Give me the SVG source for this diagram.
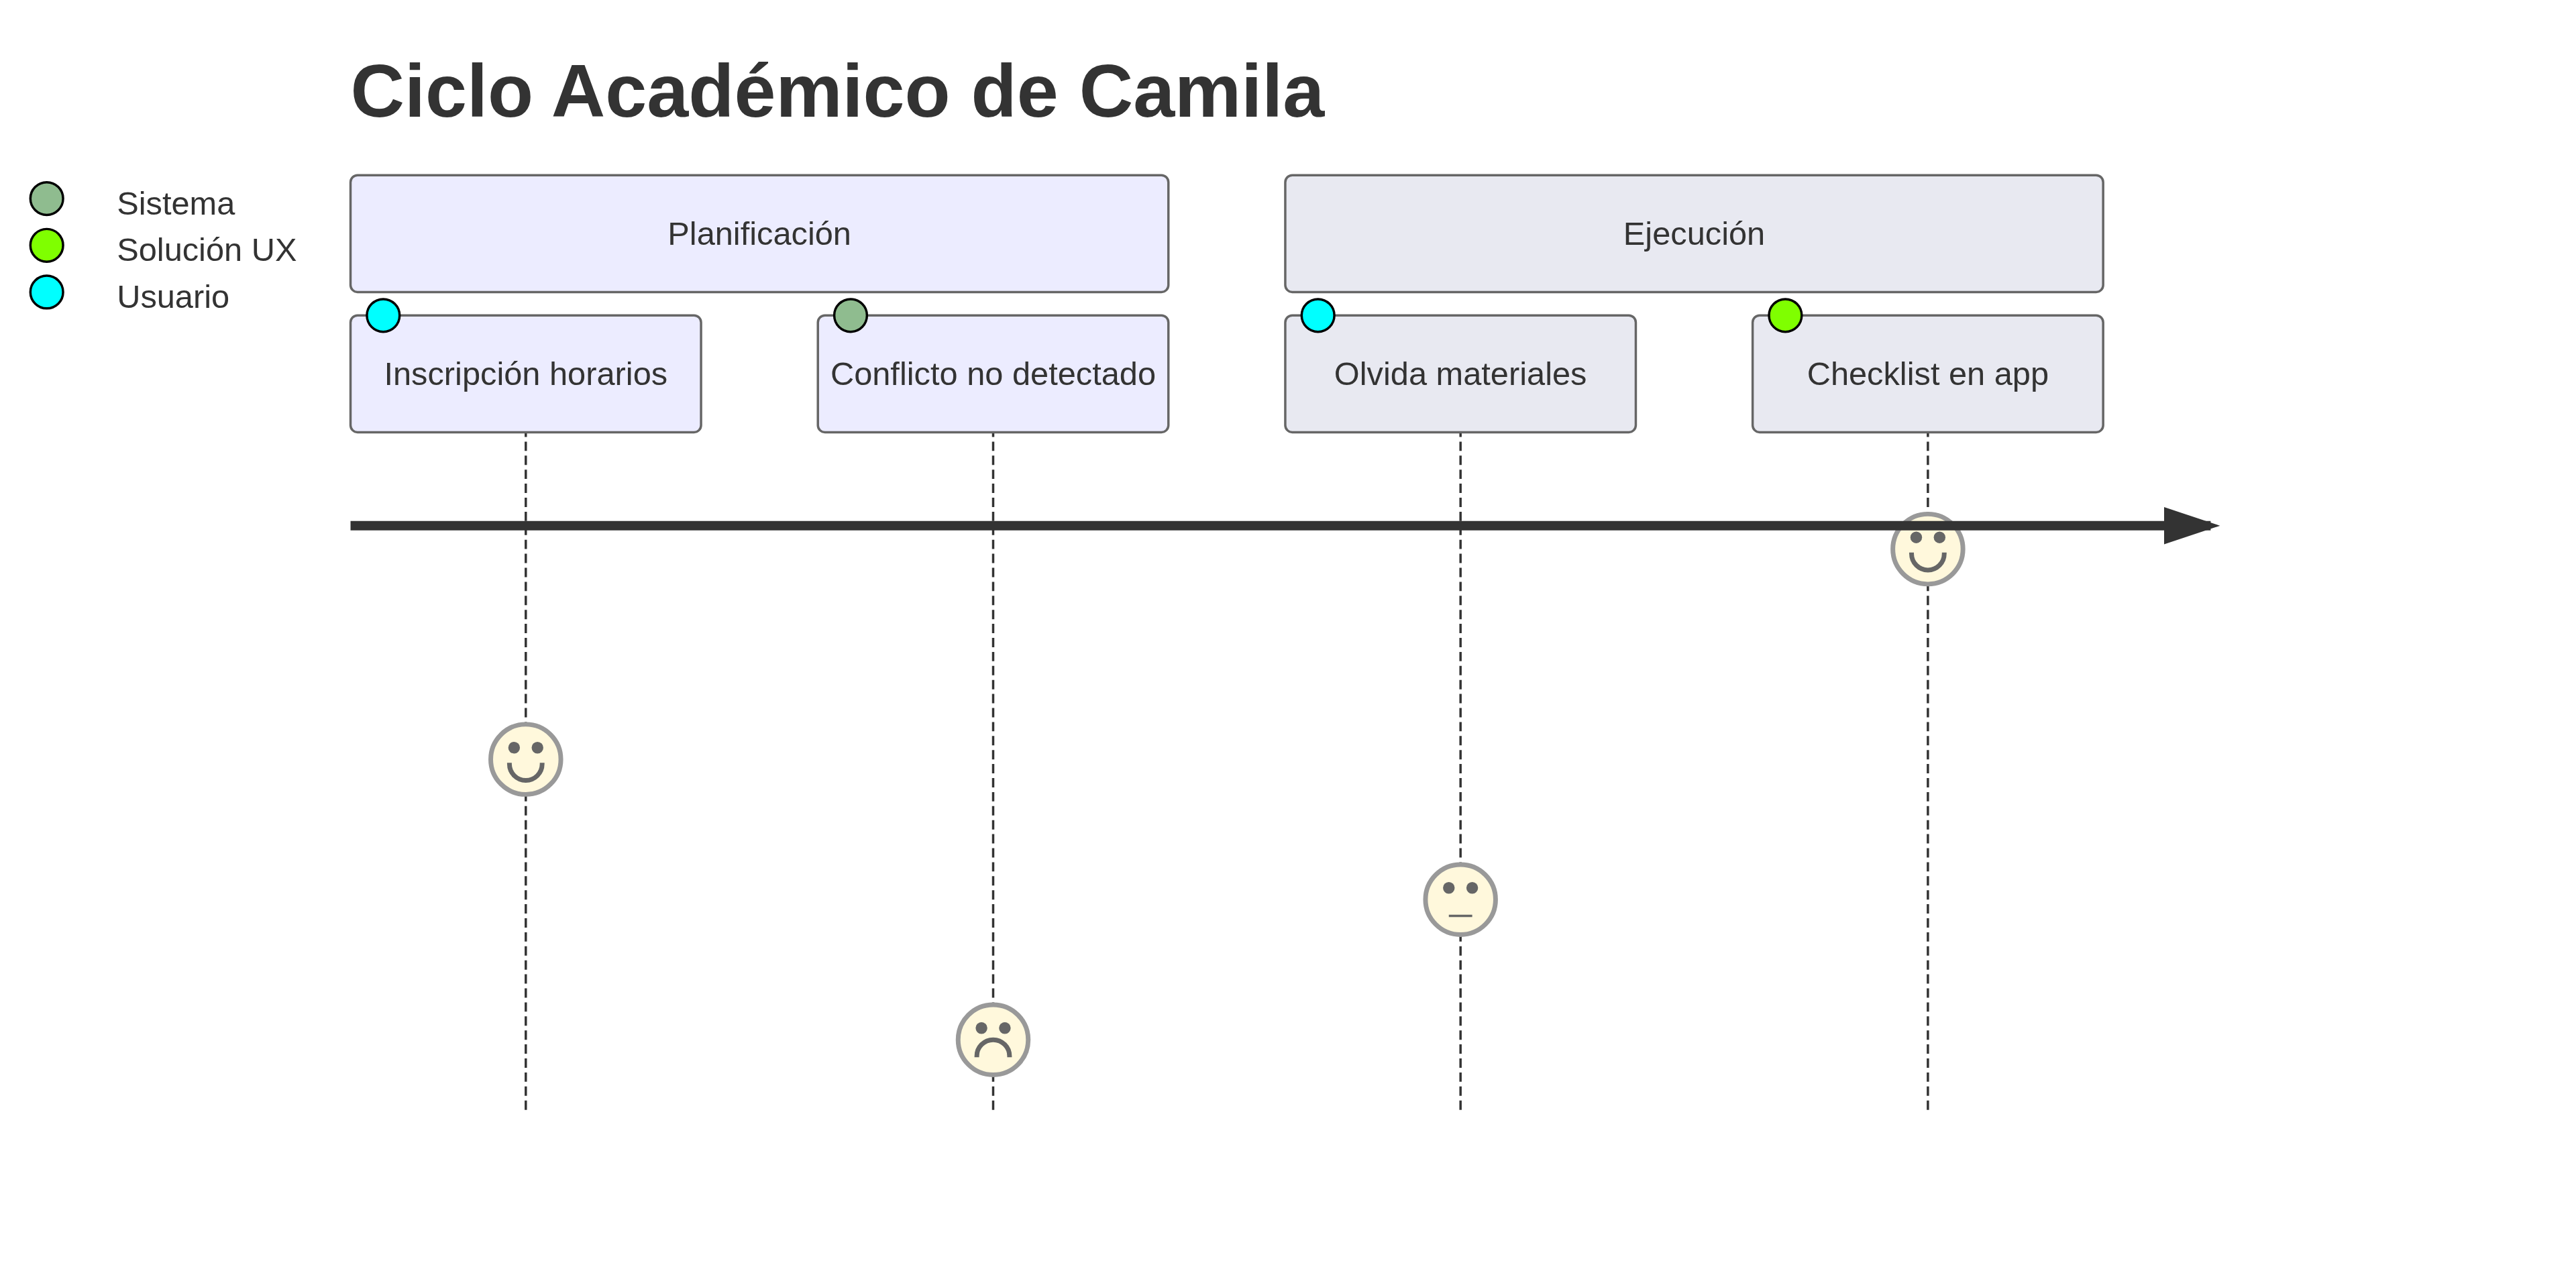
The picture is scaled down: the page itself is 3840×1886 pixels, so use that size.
<svg xmlns="http://www.w3.org/2000/svg" width="3840" height="1886" viewBox="0 0 3840 1886">
<defs>
<style>
text{font-family:"Liberation Sans",Arial,sans-serif;fill:#333;font-size:14px}
.t{text-anchor:middle;dominant-baseline:central}
.title{font-size:32px;font-weight:bold}
.s0{fill:#ECECFF;stroke:#666;stroke-width:1}
.s1{fill:#E8E9F1;stroke:#666;stroke-width:1}
.dot{stroke:#000;stroke-width:1}
.face{fill:#FFF8DC;stroke:#999;stroke-width:2}
.eye{fill:#666}
.mouth{fill:#666;stroke:#666;stroke-width:1}
.neutral{stroke:#666;stroke-width:1}
.dash{stroke:#333;stroke-width:1;stroke-dasharray:4 2}
</style>
<marker id="arrowhead" refX="5" refY="2" markerWidth="6" markerHeight="4" orient="auto"><path d="M0,0V4L6,2Z" fill="#333"/></marker>
</defs>
<rect width="3840" height="1886" fill="#fff"/>
<g transform="scale(3.4835)">
<text id="title" class="title" x="150" y="50">Ciclo Académico de Camila</text>
<g id="legend">
<g id="legend-sistema"><circle class="dot" cx="20" cy="85" r="7" fill="#8FBC8F"/><text x="50" y="91.8">Sistema</text></g>
<g id="legend-solucion"><circle class="dot" cx="20" cy="105" r="7" fill="#7FFF00"/><text x="50" y="111.8">Solución UX</text></g>
<g id="legend-usuario"><circle class="dot" cx="20" cy="125" r="7" fill="#00FFFF"/><text x="50" y="131.8">Usuario</text></g>
</g>
<g id="connectors">
<line class="dash" x1="225" y1="135" x2="225" y2="475"/>
<line class="dash" x1="425" y1="135" x2="425" y2="475"/>
<line class="dash" x1="625" y1="135" x2="625" y2="475"/>
<line class="dash" x1="825" y1="135" x2="825" y2="475"/>
</g>
<g id="section-planificacion"><rect class="s0" x="150" y="75" width="350" height="50" rx="3"/><text class="t" x="325" y="100">Planificación</text></g>
<g id="section-ejecucion"><rect class="s1" x="550" y="75" width="350" height="50" rx="3"/><text class="t" x="725" y="100">Ejecución</text></g>
<g id="task-inscripcion"><rect class="s0" x="150" y="135" width="150" height="50" rx="3"/><circle class="dot" cx="164" cy="135" r="7" fill="#00FFFF"/><text class="t" x="225" y="160">Inscripción horarios</text></g>
<g id="task-conflicto"><rect class="s0" x="350" y="135" width="150" height="50" rx="3"/><circle class="dot" cx="364" cy="135" r="7" fill="#8FBC8F"/><text class="t" x="425" y="160">Conflicto no detectado</text></g>
<g id="task-olvida"><rect class="s1" x="550" y="135" width="150" height="50" rx="3"/><circle class="dot" cx="564" cy="135" r="7" fill="#00FFFF"/><text class="t" x="625" y="160">Olvida materiales</text></g>
<g id="task-checklist"><rect class="s1" x="750" y="135" width="150" height="50" rx="3"/><circle class="dot" cx="764" cy="135" r="7" fill="#7FFF00"/><text class="t" x="825" y="160">Checklist en app</text></g>
<g id="face-inscripcion" transform="translate(225,325)"><circle class="face" r="15"/><circle class="eye" cx="-5" cy="-5" r="2.5"/><circle class="eye" cx="5" cy="-5" r="2.5"/><path class="mouth" d="M7.5,2A7.5,7.5 0 0 1 -7.5,2L-6.5,2A6.5,6.5 0 0 0 6.5,2Z"/></g>
<g id="face-conflicto" transform="translate(425,445)"><circle class="face" r="15"/><circle class="eye" cx="-5" cy="-5" r="2.5"/><circle class="eye" cx="5" cy="-5" r="2.5"/><path class="mouth" d="M-7.5,7A7.5,7.5 0 0 1 7.5,7L6.5,7A6.5,6.5 0 0 0 -6.5,7Z"/></g>
<g id="face-olvida" transform="translate(625,385)"><circle class="face" r="15"/><circle class="eye" cx="-5" cy="-5" r="2.5"/><circle class="eye" cx="5" cy="-5" r="2.5"/><line class="neutral" x1="-5" y1="7" x2="5" y2="7"/></g>
<g id="face-checklist" transform="translate(825,235)"><circle class="face" r="15"/><circle class="eye" cx="-5" cy="-5" r="2.5"/><circle class="eye" cx="5" cy="-5" r="2.5"/><path class="mouth" d="M7.5,2A7.5,7.5 0 0 1 -7.5,2L-6.5,2A6.5,6.5 0 0 0 6.5,2Z"/></g>
<g id="axis"><line x1="150" y1="225" x2="946" y2="225" stroke="#333" stroke-width="4" marker-end="url(#arrowhead)"/></g>
</g>
</svg>
